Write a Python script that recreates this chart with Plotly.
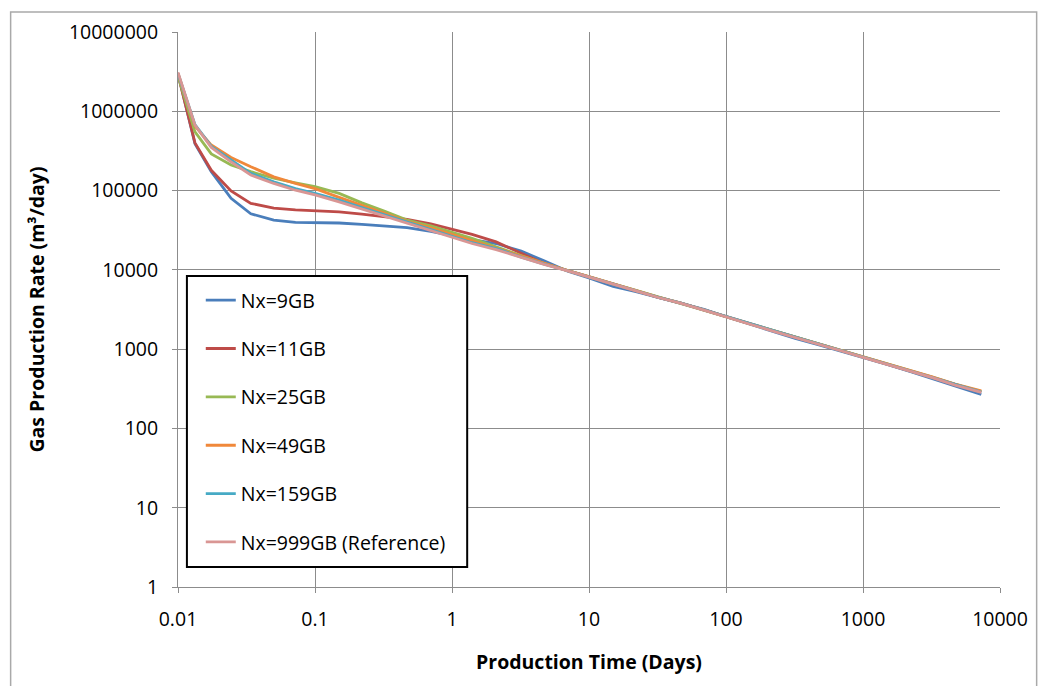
import plotly.graph_objects as go

# ---- data ----
time_days = [0.01, 0.0133, 0.0175, 0.0244, 0.034, 0.05, 0.072, 0.1, 0.15, 0.22, 0.32, 0.47,
             0.7, 1.0, 1.4, 2.1, 3.2, 4.7, 7.0, 10, 15, 22, 32, 47, 70, 100, 150, 220, 320,
             470, 700, 1000, 1500, 2200, 3200, 4700, 7300]

nx_9 = [3.0e6, 3.9e5, 1.73e5, 8.0e4, 5.1e4, 4.25e4, 3.97e4, 3.95e4, 3.9e4, 3.75e4, 3.57e4, 3.4e4,
        3.05e4, 2.7e4, 2.4e4, 2.15e4, 1.72e4, 1.3e4, 9.6e3, 7.9e3, 6.2e3, 5.3e3, 4.45e3, 3.75e3,
        3.15e3, 2.56e3, 2.05e3, 1.68e3, 1.37e3, 1.14e3, 940, 785, 640, 525, 425, 340, 268]
nx_11 = [2.9e6, 4.0e5, 1.8e5, 9.9e4, 6.9e4, 6.0e4, 5.7e4, 5.6e4, 5.4e4, 5.05e4, 4.7e4, 4.33e4,
         3.8e4, 3.25e4, 2.8e4, 2.25e4, 1.6e4, 1.2e4, 9.8e3, 8.2e3, 6.6e3, 5.45e3, 4.5e3, 3.8e3,
         3.1e3, 2.55e3, 2.07e3, 1.7e3, 1.42e3, 1.16e3, 950, 790, 645, 530, 440, 355, 287]
nx_25 = [2.8e6, 5.5e5, 2.9e5, 2.1e5, 1.73e5, 1.43e5, 1.25e5, 1.12e5, 9.2e4, 7.0e4, 5.5e4, 4.25e4,
         3.6e4, 3.0e4, 2.5e4, 1.95e4, 1.5e4, 1.2e4, 9.8e3, 8.25e3, 6.65e3, 5.5e3, 4.55e3, 3.82e3,
         3.12e3, 2.57e3, 2.09e3, 1.72e3, 1.43e3, 1.17e3, 955, 795, 650, 535, 445, 360, 292]
nx_49 = [3.0e6, 6.5e5, 3.75e5, 2.62e5, 2.0e5, 1.49e5, 1.23e5, 1.06e5, 8.2e4, 6.5e4, 5.2e4, 4.1e4,
         3.4e4, 2.8e4, 2.35e4, 1.9e4, 1.48e4, 1.2e4, 9.8e3, 8.2e3, 6.62e3, 5.48e3, 4.52e3, 3.8e3,
         3.12e3, 2.57e3, 2.08e3, 1.72e3, 1.43e3, 1.17e3, 955, 795, 652, 537, 447, 362, 297]
nx_159 = [3.0e6, 6.8e5, 3.6e5, 2.43e5, 1.65e5, 1.29e5, 1.06e5, 9.2e4, 7.6e4, 6.1e4, 4.95e4, 3.95e4,
          3.2e4, 2.65e4, 2.2e4, 1.85e4, 1.45e4, 1.18e4, 9.75e3, 8.2e3, 6.6e3, 5.45e3, 4.5e3, 3.8e3,
          3.1e3, 2.55e3, 2.07e3, 1.7e3, 1.42e3, 1.16e3, 950, 790, 645, 530, 440, 355, 287]
nx_999 = [3.1e6, 6.7e5, 3.5e5, 2.3e5, 1.57e5, 1.23e5, 1.01e5, 8.8e4, 7.2e4, 5.85e4, 4.75e4, 3.85e4,
          3.1e4, 2.57e4, 2.15e4, 1.8e4, 1.42e4, 1.17e4, 9.7e3, 8.15e3, 6.58e3, 5.43e3, 4.48e3, 3.78e3,
          3.09e3, 2.54e3, 2.06e3, 1.69e3, 1.41e3, 1.155e3, 948, 788, 643, 528, 438, 352, 285]

series_names = ["Nx=9GB", "Nx=11GB", "Nx=25GB", "Nx=49GB", "Nx=159GB", "Nx=999GB (Reference)"]
series_values = [nx_9, nx_11, nx_25, nx_49, nx_159, nx_999]
series_colors = ["#4A7EBB", "#BE4B48", "#98B954", "#F0883A", "#46AAC5", "#D99694"]

x_tickvals = [0.01, 0.1, 1, 10, 100, 1000, 10000]
x_ticktext = ["0.01", "0.1", "1", "10", "100", "1000", "10000"]
y_tickvals = [1, 10, 100, 1000, 10000, 100000, 1000000, 10000000]
y_ticktext = ["1", "10", "100", "1000", "10000", "100000", "1000000", "10000000"]

FONT = "Open Sans"
FS = 19.5

fig = go.Figure()
for i, (name, vals, col) in enumerate(zip(series_names, series_values, series_colors)):
    fig.add_trace(go.Scatter(x=time_days, y=vals, mode="lines", name=name,
                             legendgroup=f"g{i}",
                             line=dict(color=col, width=2.8)))

# plot area geometry (pixels)
L, R, T, B = 178, 1008, 32, 587
W, H = 1040, 686
pw, ph = R - L, B - T

def px(x):
    return (x - L) / pw

def py(y):
    return (B - y) / ph

shapes = [
    # outer chart frame
    dict(type="rect", xref="paper", yref="paper",
         x0=px(9), x1=px(1045), y0=py(692), y1=py(12),
         line=dict(color="#A9A9A9", width=1.5), fillcolor="rgba(0,0,0,0)", layer="below"),
    # legend box
    dict(type="rect", xref="paper", yref="paper",
         x0=px(187), x1=px(470), y0=py(567), y1=py(276),
         line=dict(color="#000000", width=2), fillcolor="#FFFFFF", layer="above"),
]

fig.update_layout(
    width=W, height=H,
    margin=dict(l=L, r=W - R, t=T, b=H - B, pad=0),
    paper_bgcolor="white", plot_bgcolor="white",
    font=dict(family=FONT, size=FS, color="#000000"),
    showlegend=True,
    legend=dict(x=px(201), y=py(281), xanchor="left", yanchor="top",
                bgcolor="rgba(0,0,0,0)", borderwidth=0,
                font=dict(family=FONT, size=FS, color="#000000"),
                tracegroupgap=20, itemwidth=30),
    shapes=shapes,
    xaxis=dict(type="log", range=[-2, 4], tickmode="array",
               tickvals=x_tickvals, ticktext=x_ticktext,
               showgrid=True, gridcolor="#8C8C8C", gridwidth=1,
               showline=True, linecolor="#8C8C8C", linewidth=1,
               ticks="outside", ticklen=5, tickcolor="#8C8C8C",
               ticklabelstandoff=10,
               tickfont=dict(family=FONT, size=FS),
               title=dict(text="<b>Production Time (Days)</b>",
                          font=dict(family=FONT, size=FS), standoff=23),
               zeroline=False),
    yaxis=dict(type="log", range=[0, 7], tickmode="array",
               tickvals=y_tickvals, ticktext=y_ticktext,
               showgrid=True, gridcolor="#8C8C8C", gridwidth=1,
               showline=True, linecolor="#8C8C8C", linewidth=1,
               ticks="outside", ticklen=5, tickcolor="#8C8C8C",
               ticklabelstandoff=10,
               tickfont=dict(family=FONT, size=FS),
               title=dict(text="<b>Gas Production Rate (m³/day)</b>",
                          font=dict(family=FONT, size=FS), standoff=19),
               zeroline=False),
)

fig.write_html("out.html")
